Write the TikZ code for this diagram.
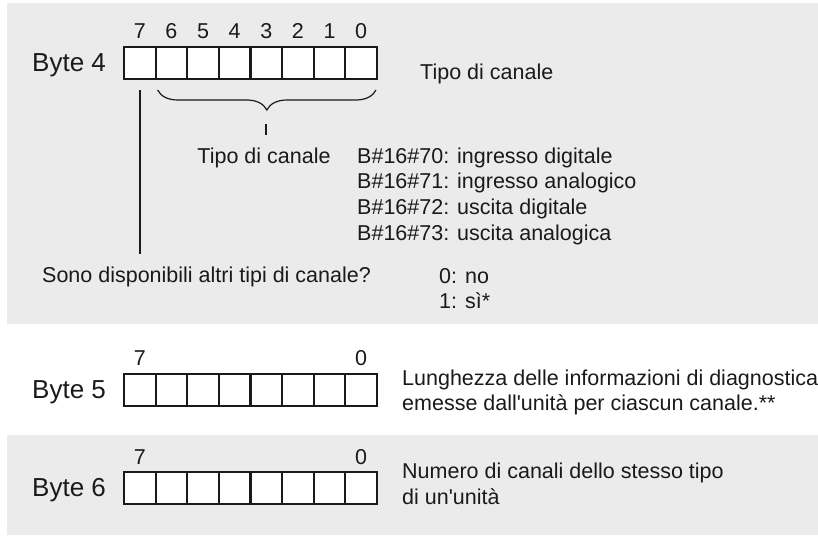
\documentclass[tikz,border=0pt]{standalone}
\usepackage{fontspec}
\setmainfont{Liberation Sans}
\usetikzlibrary{calc,positioning,decorations.pathreplacing}
\definecolor{panel}{HTML}{EBEBEB}
\definecolor{ink}{HTML}{1A1A1A}

\tikzset{
  cell/.style={draw=ink,line width=2.2pt,fill=white,minimum width=31.625pt,
    minimum height=32pt,inner sep=0pt,outer sep=0pt},
  bytelbl/.style={font=\fontsize{26}{30}\selectfont,text=ink,inner sep=0pt,anchor=base west},
  txt/.style={font=\fontsize{21.5}{25}\selectfont,text=ink,inner sep=0pt,anchor=base west},
  bitnum/.style={font=\fontsize{21.5}{25}\selectfont,text=ink,inner sep=0pt,anchor=base},
  lead/.style={draw=ink,line width=2pt},
}

\begin{document}
\begin{tikzpicture}[x=1pt,y=-1pt]
  \useasboundingbox (0,0) rectangle (818,535);
  % Hintergrundflaechen
  \fill[panel] (7,3) rectangle (818,324);
  \fill[panel] (7,435) rectangle (818,535);

  % Byte 4
  \node[bytelbl] (lbl4) at (32,71.5) {Byte 4};
  \foreach \i in {0,...,7}{
    \pgfmathtruncatemacro\bit{7-\i}
    \node[cell] (b4c\i) at ({124+31.625*(\i+0.5)},63) {};
    \node[bitnum] (b4n\i) at ({124+31.625*(\i+0.5)},39) {\bit};
  }
  \node[txt] (tipo1) at (420,79) {Tipo di canale};
  \draw[ink,line width=1.2pt,decorate,decoration={brace,amplitude=20pt}]
    ($(b4c7.south east)+(-1,11)$) -- ($(b4c1.south west)+(2,11)$);
  \coordinate (tip) at ($(b4c1.south west)!0.5!(b4c7.south east)+(0,31)$);
  \node[txt,anchor=base] (tipo2) at (264,163) {Tipo di canale};
  \draw[ink,line width=2pt] ($(tip)+(0,14)$) -- ($(tip)+(0,25)$);
  \foreach \t [count=\k from 0] in {B\#16\#70: ingresso digitale,
      B\#16\#71: ingresso analogico,B\#16\#72: uscita digitale,
      B\#16\#73: uscita analogica}
    \node[txt] (code\k) at (357,{163+25.7*\k}) {\t};
  \node[txt] (sono) at (42,282) {Sono disponibili altri tipi di canale?};
  \draw[lead] ($(b4c0.south)+(0,11)$) -- ($(b4c0.south |- sono.north)+(0,-12)$);
  \node[txt] (no) at (439,283) {0: no};
  \node[txt] (si) at (439,308) {1: sì*};

  % Byte 5
  \node[bytelbl] (lbl5) at (32,398.5) {Byte 5};
  \foreach \i in {0,...,7}
    \node[cell] (b5c\i) at ({124+31.625*(\i+0.5)},390) {};
  \node[bitnum] (b5hi) at (b5c0 |- 0,365) {7};
  \node[bitnum] (b5lo) at (b5c7 |- 0,365) {0};
  \node[txt] (len1) at (402,385) {Lunghezza delle informazioni di diagnostica};
  \node[txt] (len2) at (402,410) {emesse dall\textquotesingle unità per ciascun canale.**};

  % Byte 6
  \node[bytelbl] (lbl6) at (32,496.5) {Byte 6};
  \foreach \i in {0,...,7}
    \node[cell] (b6c\i) at ({124+31.625*(\i+0.5)},488) {};
  \node[bitnum] (b6hi) at (b6c0 |- 0,464) {7};
  \node[bitnum] (b6lo) at (b6c7 |- 0,464) {0};
  \node[txt] (num1) at (402,478) {Numero di canali dello stesso tipo};
  \node[txt] (num2) at (402,504) {di un\textquotesingle unità};
\end{tikzpicture}
\end{document}
